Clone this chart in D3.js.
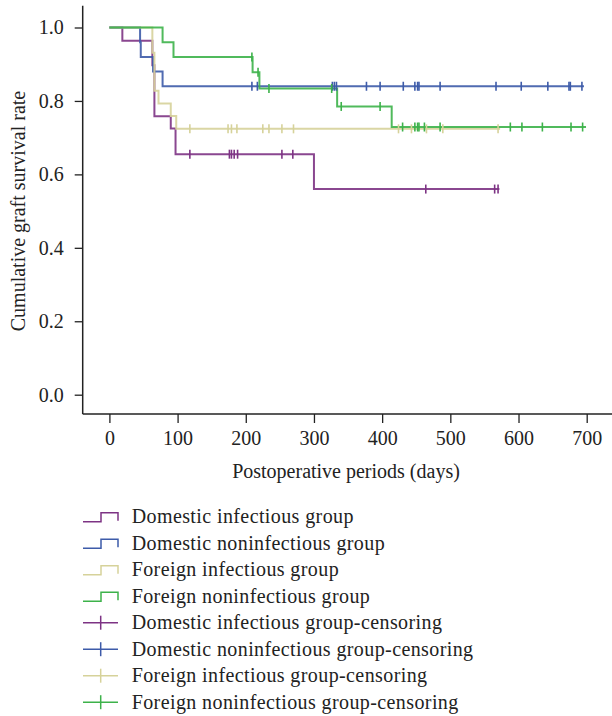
<!DOCTYPE html>
<html lang="en">
<head>
<meta charset="utf-8">
<title>Cumulative graft survival rate</title>
<script src="https://d3js.org/d3.v7.min.js"></script>
<style>
  body { margin: 0; background: #fff; }
  text { font-family: "Liberation Serif", "Times New Roman", serif; fill: #222; }
  .axis text { font-size: 20px; }
  .axis line { stroke: #222; stroke-width: 1.3; }
  .axis path { display: none; }
  .axis_label { font-size: 20px; }
  .legend text { font-size: 20px; letter-spacing: 0.4px; }
</style>
</head>
<body>
<script>
// Kaplan-Meier steps: [day, survival] per group, plus end day and censored days
const groups = ["Domestic infectious group", "Domestic noninfectious group",
                "Foreign infectious group", "Foreign noninfectious group"];

const domInfSteps = [[0, 1], [19, 0.964], [63, 0.897], [66, 0.758], [90, 0.725], [97, 0.655], [300, 0.56]];
const domInfEnd = 572;
const domInfCens = [118, 176, 179, 183, 188, 253, 269, 464, 565, 570];

const domNonSteps = [[0, 1], [45, 0.96], [46, 0.92], [64, 0.88], [78, 0.84]];
const domNonEnd = 696;
const domNonCens = [209, 217, 327, 330, 333, 377, 397, 431, 448, 452, 454, 485, 567, 604, 643, 674, 676, 693];

const forInfSteps = [[0, 1], [63, 0.931], [66, 0.828], [72, 0.793], [90, 0.759], [98, 0.724]];
const forInfEnd = 573;
const forInfCens = [118, 174, 179, 187, 225, 234, 253, 270, 424, 443, 465, 489, 570];

const forNonSteps = [[0, 1], [78, 0.96], [94, 0.92], [210, 0.878], [220, 0.834], [334, 0.785], [414, 0.729]];
const forNonEnd = 699;
const forNonCens = [209, 218, 234, 326, 340, 397, 430, 448, 452, 454, 462, 485, 588, 605, 635, 677, 694];

const colors = ["#7d3384", "#3d5ba9", "#d6d29a", "#3db24a"];

const xTicks = [0, 100, 200, 300, 400, 500, 600, 700];
const yTicks = [0, 0.2, 0.4, 0.6, 0.8, 1.0];

const w = 612, h = 716;

const xScale = d3.scaleLinear().domain([0, 700]).range([109.4, 586.7]);
const yScale = d3.scaleLinear().domain([0, 1]).range([394.7, 27.5]);
const axisX = 82.7, axisY = 414;

const svg = d3.select("body").append("svg")
  .attr("width", w).attr("height", h);

// axis lines (drawn by hand, they run past the data range)
svg.append("line")
  .attr("x1", axisX).attr("x2", axisX).attr("y1", 5.7).attr("y2", axisY)
  .attr("stroke", "#222").attr("stroke-width", 1.5);
svg.append("line")
  .attr("x1", axisX).attr("x2", w).attr("y1", axisY).attr("y2", axisY)
  .attr("stroke", "#222").attr("stroke-width", 1.5);

svg.append("g")
  .attr("class", "axis")
  .attr("transform", "translate(" + axisX + ",0)")
  .call(d3.axisLeft(yScale).tickValues(yTicks).tickFormat(d3.format(".1f"))
    .tickSize(8).tickPadding(11));

svg.append("g")
  .attr("class", "axis")
  .attr("transform", "translate(0," + axisY + ")")
  .call(d3.axisBottom(xScale).tickValues(xTicks).tickFormat(d3.format("d"))
    .tickSize(9).tickPadding(8));

//axis titles
svg.append("text")
  .attr("class", "axis_label")
  .attr("x", 346).attr("y", 478)
  .attr("text-anchor", "middle")
  .text("Postoperative periods (days)");

svg.append("text")
  .attr("class", "axis_label")
  .attr("transform", "translate(25,211) rotate(-90)")
  .attr("text-anchor", "middle")
  .text("Cumulative graft survival rate");

// curves
const series = [
  { steps: domInfSteps, end: domInfEnd, cens: domInfCens },
  { steps: domNonSteps, end: domNonEnd, cens: domNonCens },
  { steps: forInfSteps, end: forInfEnd, cens: forInfCens },
  { steps: forNonSteps, end: forNonEnd, cens: forNonCens }
];

const line = d3.line()
  .x(d => xScale(d[0]))
  .y(d => yScale(d[1]))
  .curve(d3.curveStepAfter);

function survAt(steps, t) {
  let s = steps[0][1];
  steps.forEach(d => { if (d[0] <= t) s = d[1]; });
  return s;
}

series.forEach((s, i) => {
  const pts = s.steps.concat([[s.end, s.steps[s.steps.length - 1][1]]]);
  svg.append("path")
    .attr("d", line(pts))
    .attr("fill", "none")
    .attr("stroke", colors[i])
    .attr("stroke-width", 2)
    .attr("stroke-opacity", 0.9);
});

// censoring marks
series.forEach((s, i) => {
  svg.append("g").selectAll("line")
    .data(s.cens)
    .join("line")
    .attr("x1", d => xScale(d)).attr("x2", d => xScale(d))
    .attr("y1", d => yScale(survAt(s.steps, d)) - 4.5)
    .attr("y2", d => yScale(survAt(s.steps, d)) + 4.5)
    .attr("stroke", colors[i])
    .attr("stroke-width", 1.6);
});

// legend
const legend = svg.append("g").attr("class", "legend");
const labels = groups.concat(groups.map(g => g + "-censoring"));
labels.forEach((lab, k) => {
  const cy = 516.7 + k * 26.5;
  const c = colors[k % 4];
  if (k < 4) {
    legend.append("path")
      .attr("d", "M83," + (cy + 5) + "H101V" + (cy - 4) + "H118V" + (cy + 4))
      .attr("fill", "none").attr("stroke", c).attr("stroke-width", 1.5);
  } else {
    legend.append("line")
      .attr("x1", 83).attr("x2", 118).attr("y1", cy).attr("y2", cy)
      .attr("stroke", c).attr("stroke-width", 1.5);
    legend.append("line")
      .attr("x1", 100.7).attr("x2", 100.7).attr("y1", cy - 7).attr("y2", cy + 7)
      .attr("stroke", c).attr("stroke-width", 1.5);
  }
  legend.append("text")
    .attr("x", 131.7).attr("y", cy)
    .attr("dy", "0.33em")
    .text(lab);
});
</script>
</body>
</html>
